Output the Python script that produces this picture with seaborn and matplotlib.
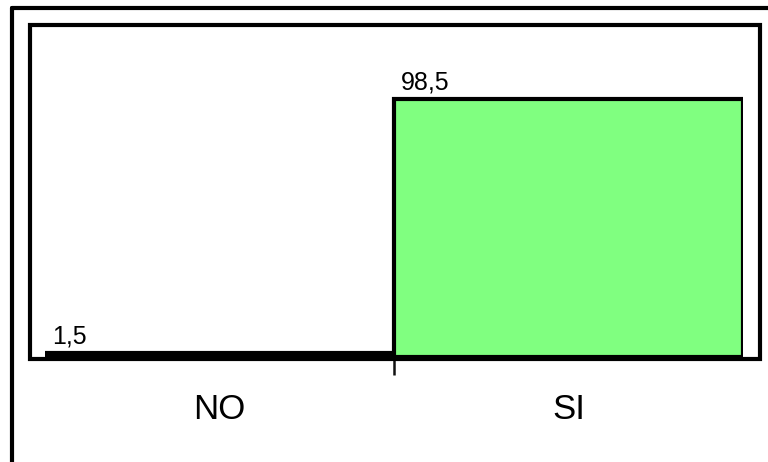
import matplotlib
matplotlib.use("Agg")
import matplotlib.pyplot as plt
from matplotlib.patches import Rectangle
from matplotlib.lines import Line2D
import seaborn as sns
import pandas as pd

# Survey answers and their percentages
categories = ["NO", "SI"]
values = [1.5, 98.5]
value_labels = ["1,5", "98,5"]

sns.set_style("white")
plt.rcParams["font.family"] = ["Liberation Sans", "DejaVu Sans"]

W, H = 768, 462
fig = plt.figure(figsize=(W / 100, H / 100), dpi=100)
fig.patch.set_facecolor("white")

# plot area in pixel coordinates (left, right, top, bottom)
L, R, T, B = 45, 743, 24, 357
ax = fig.add_axes([L / W, 1 - B / H, (R - L) / W, (B - T) / H])

df = pd.DataFrame({"cat": categories, "val": values})
sns.barplot(data=df, x="cat", y="val", color="#80FF80", width=1.0,
            edgecolor="black", linewidth=3.0, saturation=1, ax=ax)

ax.set_xlim(-0.5, 1.5)
ax.set_ylim(0, 127)
ax.set_yticks([])
ax.set_xlabel("")
ax.set_ylabel("")
for s in ax.spines.values():
    s.set_visible(False)

# category labels without marks, one divider tick between categories
ax.set_xticks(range(len(categories)))
ax.set_xticklabels(categories, fontsize=25, color="black")
ax.tick_params(axis="x", which="major", bottom=True, length=0, pad=26)
ax.set_xticks([0.5], minor=True)
ax.tick_params(axis="x", which="minor", bottom=True, length=13, width=1.8,
               color="#111111", direction="out")

# value labels above each bar, anchored at the bar's left edge
for i, (v, lab) in enumerate(zip(values, value_labels)):
    ax.annotate(lab, xy=(i - 0.5, v), xytext=(5, 7), textcoords="offset points",
                ha="left", va="baseline", fontsize=18, color="black")

# inner frame around the plot area
fig.add_artist(Rectangle((30 / W, 1 - 358.5 / H), (760 - 30) / W, (358.5 - 24.5) / H,
                         transform=fig.transFigure, fill=False,
                         edgecolor="black", linewidth=3.0))
# outer frame (left and top edges visible)
fig.add_artist(Line2D([11.5 / W, 11.5 / W], [1 - 7.5 / H, 0],
                      transform=fig.transFigure, color="black", linewidth=3.0))
fig.add_artist(Line2D([11.5 / W, 1], [1 - 7.5 / H, 1 - 7.5 / H],
                      transform=fig.transFigure, color="black", linewidth=3.0))

fig.savefig("out.png", dpi=100)
